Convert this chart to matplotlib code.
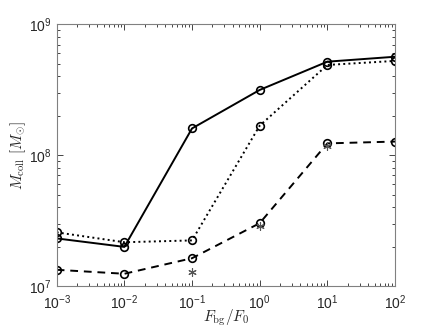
import matplotlib
matplotlib.use("Agg")
import matplotlib.pyplot as plt
import numpy as np

plt.rcParams['font.family'] = ['Liberation Sans', 'DejaVu Sans']
plt.rcParams['mathtext.fontset'] = 'cm'

F_ratio = [1e-3, 1e-2, 1e-1, 1e0, 1e1, 1e2]
M_solid = [2.31e7, 1.99e7, 1.60e8, 3.15e8, 5.18e8, 5.65e8]
M_dotted = [2.57e7, 2.16e7, 2.23e7, 1.68e8, 4.89e8, 5.25e8]
M_dashed = [1.33e7, 1.24e7, 1.63e7, 3.02e7, 1.23e8, 1.27e8]
star_x = [1e-1, 1e0, 1e1]
star_y = [1.29e7, 2.88e7, 1.17e8]

fig = plt.figure(figsize=(4.36, 3.27), dpi=100)
ax = fig.add_axes([0.130, 0.1254, 0.776, 0.8003])

gray = '#262626'
lw = 1.4
ms = 5.5
ax.plot(F_ratio, M_solid, '-', color='k', lw=lw, marker='o', mfc='none', mec='k', ms=ms, mew=1.2)
ax.plot(F_ratio, M_dotted, ':', color='k', lw=lw, marker='o', mfc='none', mec='k', ms=ms, mew=1.2)
ax.plot(F_ratio, M_dashed, '--', color='k', lw=lw, marker='o', mfc='none', mec='k', ms=ms, mew=1.2,
        dashes=(4, 3))
ax.plot(star_x, star_y, linestyle='none', marker=(6, 2, 0), color='#555555', ms=6, mew=0.8)

ax.set_xscale('log')
ax.set_yscale('log')
ax.set_xlim(1e-3, 1e2)
ax.set_ylim(1e7, 1e9)

ax.tick_params(which='both', direction='in', top=True, right=True, colors=gray,
               labelsize=10, width=0.6)
ax.tick_params(which='major', length=4)
ax.tick_params(which='minor', length=2)
ax.tick_params(axis='x', pad=5)
for s in ax.spines.values():
    s.set_color('#808080')
    s.set_linewidth(0.8)
for t in ax.get_xticklabels() + ax.get_yticklabels():
    t.set_color(gray)

ax.set_xlabel(r'$F_{\rm bg}/F_0$', fontsize=11, color=gray, labelpad=-3)
ax.set_ylabel(r'$M_{\rm coll}\ [M_{\odot}]$', fontsize=11, color=gray, labelpad=1)

fig.savefig('out.png', dpi=100)
